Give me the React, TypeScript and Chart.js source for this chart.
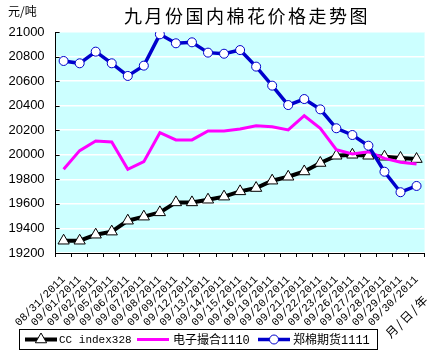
import React, { useEffect, useRef } from "react";
import { Chart, registerables } from "chart.js";

Chart.register(...registerables);

const categories = [
  "08/31/2011", "09/01/2011", "09/02/2011", "09/05/2011", "09/06/2011", "09/07/2011",
  "09/08/2011", "09/09/2011", "09/12/2011", "09/13/2011", "09/14/2011", "09/15/2011",
  "09/16/2011", "09/19/2011", "09/20/2011", "09/21/2011", "09/22/2011", "09/23/2011",
  "09/26/2011", "09/27/2011", "09/28/2011", "09/29/2011", "09/30/2011",
];

const ccIndex = [
  19300, 19300, 19349, 19374, 19463, 19496, 19531, 19612, 19612, 19634, 19659, 19702,
  19729, 19789, 19821, 19864, 19933, 19992, 20000, 19992, 19984, 19974, 19965,
];

const dianziCuohe = [
  19882, 20034, 20112, 20104, 19882, 19944, 20180, 20121, 20121, 20194, 20194, 20210,
  20237, 20229, 20202, 20318, 20216, 20042, 20007, 20025, 19971, 19939, 19925,
];

const zhengMian = [
  20764, 20745, 20840, 20745, 20642, 20726, 20981, 20908, 20916, 20832, 20823, 20853,
  20718, 20563, 20405, 20454, 20370, 20216, 20161, 20074, 19862, 19695, 19746,
];

const seriesNames = ["CC index328", "电子撮合1110", "郑棉期货1111"];
const chartTitle = "九月份国内棉花价格走势图";
const unitLabel = "元/吨";
const xAxisTitle = "月/日/年";
const yMin = 19200;
const yMax = 21000;
const yStep = 200;

const BLUE = "#0000CC";
const MAGENTA = "#FF00FF";
const BLACK = "#000000";
const PLOT_BG = "#CCFFFF";

const decorPlugin = {
  id: "decor",
  beforeDraw(chart: any) {
    const { ctx, chartArea } = chart;
    ctx.save();
    ctx.fillStyle = "#ffffff";
    ctx.fillRect(0, 0, chart.width, chart.height);
    ctx.fillStyle = PLOT_BG;
    ctx.fillRect(chartArea.left, chartArea.top, chartArea.right - chartArea.left, chartArea.bottom - chartArea.top);
    ctx.restore();
  },
  afterDraw(chart: any) {
    const { ctx, chartArea } = chart;
    const yScale = chart.scales.y;
    ctx.save();
    // inward y ticks
    ctx.strokeStyle = BLACK;
    ctx.lineWidth = 1;
    yScale.ticks.forEach((t: any) => {
      const y = Math.round(yScale.getPixelForValue(t.value)) + 0.5;
      ctx.beginPath();
      ctx.moveTo(chartArea.left, y);
      ctx.lineTo(chartArea.left + 4, y);
      ctx.stroke();
    });

    // title
    ctx.fillStyle = BLACK;
    ctx.textBaseline = "middle";
    ctx.textAlign = "center";
    ctx.font = "18px 'Noto Sans CJK SC'";
    (ctx as any).letterSpacing = "2.5px";
    ctx.fillText(chartTitle, 247, 16);
    (ctx as any).letterSpacing = "0px";

    // unit label
    ctx.textAlign = "left";
    ctx.font = "12px 'Noto Sans CJK SC'";
    ctx.fillText(unitLabel, 8, 11);

    // x axis title rotated
    ctx.save();
    ctx.translate(407, 316);
    ctx.rotate(-Math.PI / 4);
    ctx.textAlign = "center";
    ctx.font = "12px 'Noto Sans CJK SC'";
    (ctx as any).letterSpacing = "2px";
    ctx.fillText(xAxisTitle, 0, 0);
    ctx.restore();

    // legend
    const lx = 19.5, ly = 329.5, lw = 358, lh = 20;
    ctx.strokeStyle = BLACK;
    ctx.lineWidth = 1;
    ctx.strokeRect(lx, ly, lw, lh);
    const cy = 339.5;
    const items = [
      { x0: 25, x1: 57, color: BLACK, width: 4, marker: "triangle", tx: 59, font: "11px 'Liberation Mono'" },
      { x0: 137, x1: 169, color: MAGENTA, width: 3, marker: "none", tx: 173, font: "12px 'Liberation Mono', 'Noto Sans CJK SC'" },
      { x0: 258, x1: 290, color: BLUE, width: 3.5, marker: "circle", tx: 293, font: "12px 'Liberation Mono', 'Noto Sans CJK SC'" },
    ];
    items.forEach((it, i) => {
      ctx.strokeStyle = it.color;
      ctx.lineWidth = it.width;
      ctx.beginPath();
      ctx.moveTo(it.x0, cy);
      ctx.lineTo(it.x1, cy);
      ctx.stroke();
      const mx = (it.x0 + it.x1) / 2;
      if (it.marker === "triangle") {
        const r = 6.5;
        ctx.beginPath();
        ctx.moveTo(mx, cy - r);
        ctx.lineTo(mx + r * 0.866, cy + r / 2);
        ctx.lineTo(mx - r * 0.866, cy + r / 2);
        ctx.closePath();
        ctx.fillStyle = "#ffffff";
        ctx.fill();
        ctx.lineWidth = 1;
        ctx.strokeStyle = BLACK;
        ctx.stroke();
      } else if (it.marker === "circle") {
        ctx.beginPath();
        ctx.arc(mx, cy, 4.5, 0, Math.PI * 2);
        ctx.fillStyle = "#ffffff";
        ctx.fill();
        ctx.lineWidth = 1;
        ctx.strokeStyle = BLUE;
        ctx.stroke();
      }
      ctx.fillStyle = BLACK;
      ctx.textAlign = "left";
      ctx.textBaseline = "middle";
      ctx.font = it.font;
      ctx.fillText(seriesNames[i], it.tx, cy + 1);
    });
    ctx.restore();
  },
};

export default function App() {
  const canvasRef = useRef<HTMLCanvasElement | null>(null);

  useEffect(() => {
    const canvas = canvasRef.current;
    if (!canvas) return;
    const chart = new Chart(canvas, {
      type: "line",
      data: {
        labels: categories,
        datasets: [
          {
            label: seriesNames[0],
            data: ccIndex,
            borderColor: BLACK,
            borderWidth: 4,
            pointStyle: "triangle",
            pointRadius: 6.5,
            pointBackgroundColor: "#ffffff",
            pointBorderColor: BLACK,
            pointBorderWidth: 1,
            tension: 0,
            order: 2,
          },
          {
            label: seriesNames[1],
            data: dianziCuohe,
            borderColor: MAGENTA,
            borderWidth: 3,
            pointRadius: 0,
            tension: 0,
            order: 1,
          },
          {
            label: seriesNames[2],
            data: zhengMian,
            borderColor: BLUE,
            borderWidth: 3.5,
            pointStyle: "circle",
            pointRadius: 4.5,
            pointBackgroundColor: "#ffffff",
            pointBorderColor: BLUE,
            pointBorderWidth: 1,
            tension: 0,
            order: 0,
          },
        ],
      },
      options: {
        animation: false,
        responsive: false,
        events: [],
        layout: { padding: { top: 32, right: 8, left: 0, bottom: 0 } },
        plugins: {
          legend: { display: false },
          title: { display: false },
          tooltip: { enabled: false },
        },
        scales: {
          x: {
            offset: true,
            grid: {
              offset: true,
              drawOnChartArea: false,
              drawTicks: true,
              tickLength: 4,
              color: BLACK,
            },
            border: { display: true, color: BLACK, width: 1 },
            ticks: {
              autoSkip: false,
              minRotation: 45,
              maxRotation: 45,
              padding: 16,
              color: BLACK,
              font: { family: "'Liberation Mono'", size: 11 },
            },
            afterFit: (s: any) => {
              s.height = 101;
            },
          },
          y: {
            min: yMin,
            max: yMax,
            grid: {
              color: "#ffffff",
              lineWidth: 1.5,
              drawTicks: false,
            },
            border: { display: true, color: BLACK, width: 1 },
            ticks: {
              stepSize: yStep,
              padding: 11,
              color: BLACK,
              font: { family: "'Liberation Sans'", size: 13 },
              callback: (v: any) => String(v),
            },
            afterFit: (s: any) => {
              s.width = 53;
            },
          },
        },
      },
      plugins: [decorPlugin],
    });
    return () => chart.destroy();
  }, []);

  return (
    <div style={{ position: "fixed", left: 0, top: 0, width: 442, height: 354, background: "#fff" }}>
      <canvas ref={canvasRef} width={442} height={354} style={{ display: "block" }} />
    </div>
  );
}
